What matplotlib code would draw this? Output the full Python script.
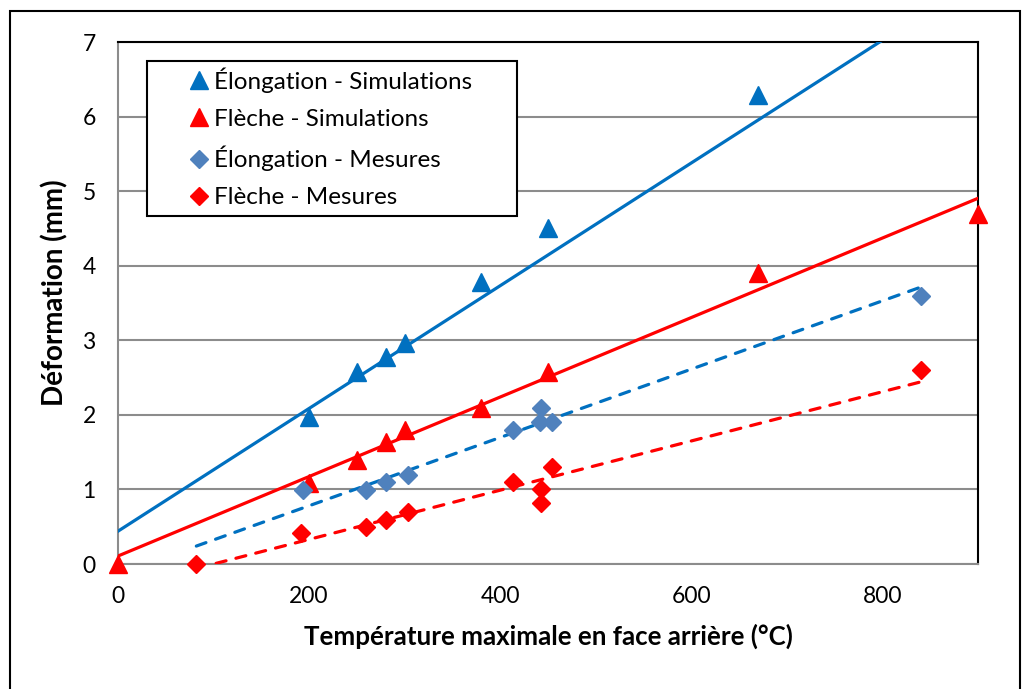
import numpy as np
import matplotlib
matplotlib.use('Agg')
import matplotlib.pyplot as plt
from matplotlib.patches import Rectangle

plt.rcParams.update({'font.family': ['Lato', 'DejaVu Sans'], 'font.size': 16})

# Élongation - Simulations
elong_sim_x = [200, 250, 280, 300, 380, 450, 670]
elong_sim_y = [1.97, 2.57, 2.77, 2.97, 3.78, 4.50, 6.29]
# Flèche - Simulations
fleche_sim_x = [0, 200, 250, 280, 300, 380, 450, 670, 900]
fleche_sim_y = [0.0, 1.09, 1.39, 1.64, 1.80, 2.09, 2.57, 3.90, 4.70]
# Élongation - Mesures
elong_mes_x = [194, 260, 281, 304, 413, 442, 443, 454, 840]
elong_mes_y = [0.99, 0.99, 1.10, 1.19, 1.80, 1.90, 2.09, 1.90, 3.59]
# Flèche - Mesures
fleche_mes_x = [82, 192, 260, 281, 304, 413, 443, 443, 454, 840]
fleche_mes_y = [0.0, 0.41, 0.50, 0.59, 0.70, 1.10, 1.00, 0.82, 1.30, 2.60]

# linear trend lines: slope, intercept, x range
trend_elong_sim = (0.00823, 0.44, 0, 900)
trend_fleche_sim = (0.00533, 0.107, 0, 900)
trend_elong_mes = (0.00458, -0.135, 82, 840)
trend_fleche_mes = (0.00330, -0.33, 82, 840)

BLUE = '#0070C0'
RED = '#FF0000'
BLUE2 = '#4F81BD'
GRID = '#8C8C8C'

fig = plt.figure(figsize=(10.24, 6.89), dpi=100)
ax = fig.add_axes([0.1152, 0.1814, 0.8398, 0.7576])

def trend(t, color, ls):
    a, b, x0, x1 = t
    xs = np.array([x0, x1])
    if ls == 'solid':
        ax.plot(xs, a * xs + b, color=color, lw=2.3, zorder=3)
    else:
        ax.plot(xs, a * xs + b, color=color, lw=2.3, ls=(0, (3.2, 3.2)),
                dash_capstyle='round', zorder=3)

trend(trend_elong_sim, BLUE, 'solid')
trend(trend_fleche_sim, RED, 'solid')
trend(trend_elong_mes, BLUE, 'dashed')
trend(trend_fleche_mes, RED, 'dashed')

ax.plot(elong_sim_x, elong_sim_y, '^', color=BLUE, ms=13, ls='none',
        clip_on=False, zorder=4, label='Élongation - Simulations')
ax.plot(fleche_sim_x, fleche_sim_y, '^', color=RED, ms=13, ls='none',
        clip_on=False, zorder=4, label='Flèche - Simulations')
ax.plot(elong_mes_x, elong_mes_y, 'D', color=BLUE2, ms=9, ls='none',
        clip_on=False, zorder=4, label='Élongation - Mesures')
ax.plot(fleche_mes_x, fleche_mes_y, 'D', color=RED, ms=9, ls='none',
        clip_on=False, zorder=4, label='Flèche - Mesures')

ax.set_xlim(0, 900)
ax.set_ylim(0, 7)
ax.set_xticks([0, 200, 400, 600, 800])
ax.set_yticks(range(0, 8))
ax.tick_params(length=0, pad=16, labelsize=16.5)
ax.grid(axis='y', color=GRID, lw=1.5)
ax.set_axisbelow(True)
for s in ['left', 'bottom']:
    ax.spines[s].set_color(GRID)
    ax.spines[s].set_linewidth(1.5)
for s in ['top', 'right']:
    ax.spines[s].set_color('black')
    ax.spines[s].set_linewidth(1.5)

ax.set_xlabel('Température maximale en face arrière (°C)', fontweight='bold',
              fontsize=18.6, labelpad=12)
ax.set_ylabel('Déformation (mm)', fontweight='bold', fontsize=20)
ax.yaxis.set_label_coords(-0.058, 0.52)

# legend: frame drawn separately to match the reference box size
ax.add_patch(Rectangle((0.0337, 0.6667), 0.4303, 0.2969, transform=ax.transAxes,
                       fill=False, edgecolor='black', lw=1.5, zorder=5,
                       clip_on=False))
ax.add_patch(Rectangle((0.0337, 0.6667), 0.4303, 0.2969, transform=ax.transAxes,
                       facecolor='white', edgecolor='none', zorder=4.5))
leg = ax.legend(loc='upper left', bbox_to_anchor=(0.0802, 0.952), fontsize=17.5,
                frameon=False, handletextpad=0.1, borderpad=0, borderaxespad=0,
                labelspacing=0.66, handlelength=1.0)
leg.set_zorder(6)

fig.patches.append(Rectangle((10 / 1024, -5 / 689), 1010 / 1024, 683 / 689,
                             transform=fig.transFigure, fill=False,
                             edgecolor='black', lw=1.5))

fig.savefig('out.png', dpi=100)
